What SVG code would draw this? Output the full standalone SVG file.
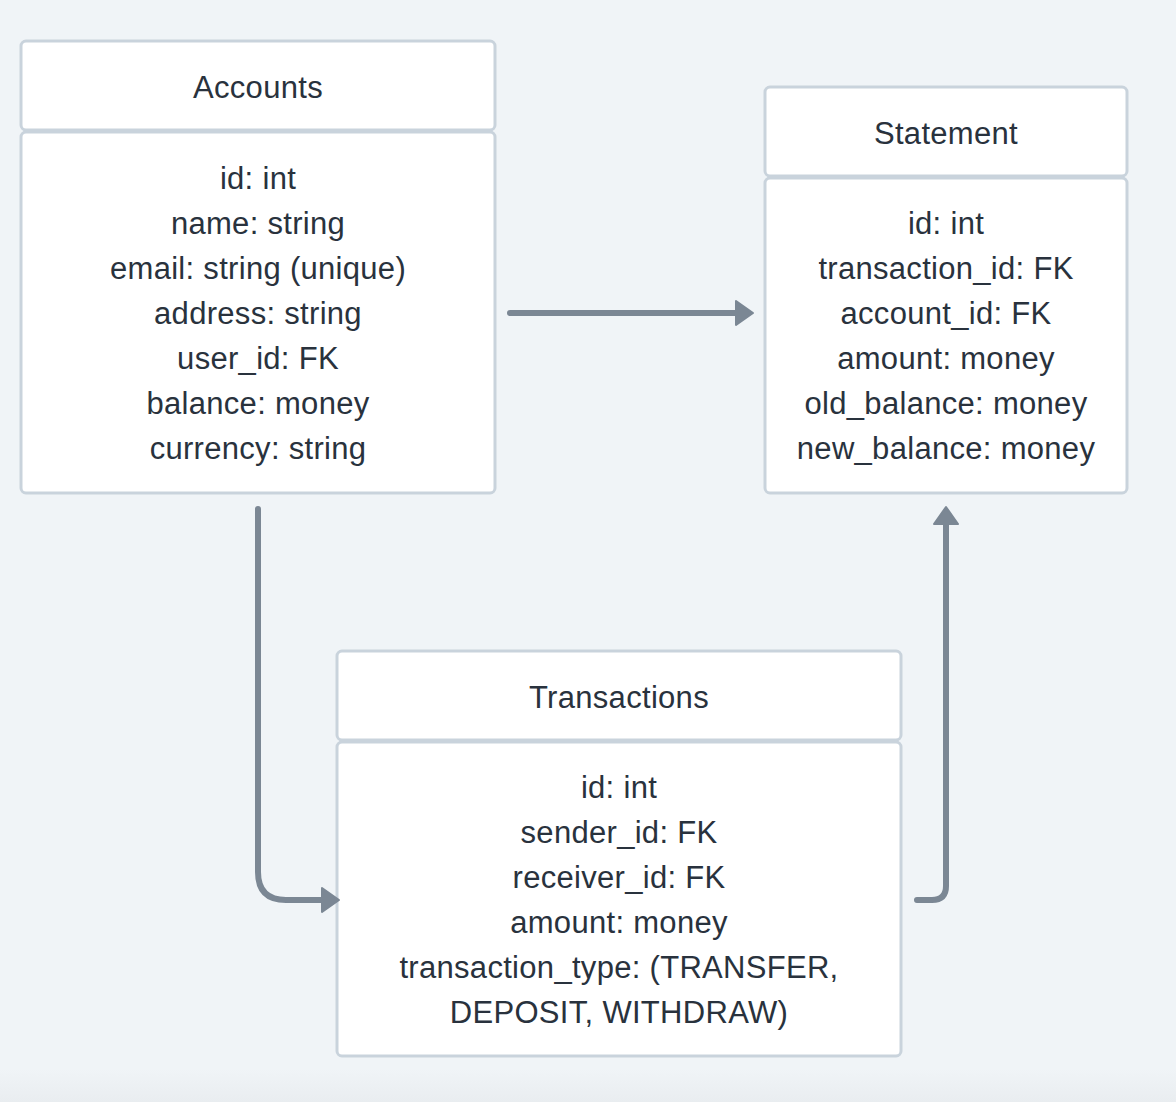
<svg xmlns="http://www.w3.org/2000/svg" width="1176" height="1102" viewBox="0 0 1176 1102">
  <defs>
    <linearGradient id="bg" x1="0" y1="0" x2="0" y2="1">
      <stop offset="0" stop-color="#f0f4f7"/>
      <stop offset="0.97" stop-color="#f0f4f7"/>
      <stop offset="1" stop-color="#e9edf0"/>
    </linearGradient>
    <marker id="ah" markerUnits="userSpaceOnUse" markerWidth="30" markerHeight="30" viewBox="0 0 30 30" refX="1" refY="15" orient="auto">
      <path d="M1 3 L18 15 L1 27 Z" fill="#7b8794" stroke="#7b8794" stroke-width="2" stroke-linejoin="round"/>
    </marker>
    <style>
      .box { fill: #ffffff; stroke: #c9d3dc; stroke-width: 3; }
      .title, .row { font-family: "Liberation Sans", "DejaVu Sans", sans-serif; font-size: 31px; fill: #29323d; text-anchor: middle; letter-spacing: 0.3px; }
      .conn { fill: none; stroke: #7b8794; stroke-width: 6; stroke-linecap: round; stroke-linejoin: round; marker-end: url(#ah); }
    </style>
  </defs>
  <rect width="1176" height="1102" fill="url(#bg)"/>

  <g id="accounts">
    <rect class="box" x="21" y="41" width="474" height="89" rx="5"/>
    <rect class="box" x="21" y="132" width="474" height="361" rx="5"/>
    <text class="title" x="258" y="98">Accounts</text>
    <text class="row" x="258" y="189">id: int</text>
    <text class="row" x="258" y="234">name: string</text>
    <text class="row" x="258" y="279">email: string (unique)</text>
    <text class="row" x="258" y="324">address: string</text>
    <text class="row" x="258" y="369">user_id: FK</text>
    <text class="row" x="258" y="414">balance: money</text>
    <text class="row" x="258" y="459">currency: string</text>
  </g>

  <g id="statement">
    <rect class="box" x="765" y="87" width="362" height="89" rx="5"/>
    <rect class="box" x="765" y="178" width="362" height="315" rx="5"/>
    <text class="title" x="946" y="144">Statement</text>
    <text class="row" x="946" y="234">id: int</text>
    <text class="row" x="946" y="279">transaction_id: FK</text>
    <text class="row" x="946" y="324">account_id: FK</text>
    <text class="row" x="946" y="369">amount: money</text>
    <text class="row" x="946" y="414">old_balance: money</text>
    <text class="row" x="946" y="459">new_balance: money</text>
  </g>

  <g id="transactions">
    <rect class="box" x="337" y="651" width="564" height="89" rx="5"/>
    <rect class="box" x="337" y="742" width="564" height="314" rx="5"/>
    <text class="title" x="619" y="708">Transactions</text>
    <text class="row" x="619" y="798">id: int</text>
    <text class="row" x="619" y="843">sender_id: FK</text>
    <text class="row" x="619" y="888">receiver_id: FK</text>
    <text class="row" x="619" y="933">amount: money</text>
    <text class="row" x="619" y="978">transaction_type: (TRANSFER,</text>
    <text class="row" x="619" y="1023">DEPOSIT, WITHDRAW)</text>
  </g>

  <g id="connectors">
    <path class="conn" d="M510 313 L736 313"/>
    <path class="conn" d="M258 509 L258 872 Q258 900 286 900 L322 900"/>
    <path class="conn" d="M917 900 L932 900 Q946 900 946 886 L946 524"/>
  </g>
</svg>
